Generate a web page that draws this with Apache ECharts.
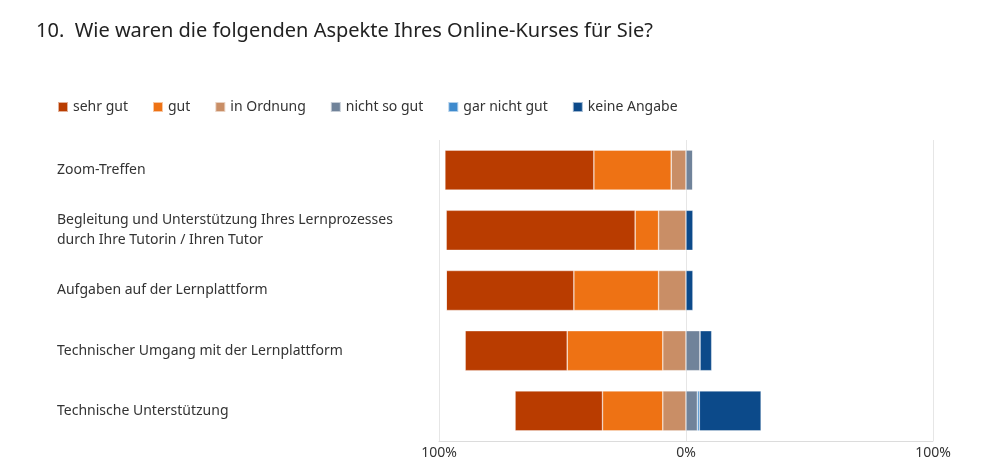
<!DOCTYPE html>
<html>
<head>
<meta charset="utf-8">
<script src="https://cdn.jsdelivr.net/npm/echarts@6/dist/echarts.min.js"></script>
<style>
  html, body { margin: 0; padding: 0; background: #fff; }
  #chart { width: 983px; height: 471px; }
</style>
</head>
<body>
<div id="chart"></div>
<script>
// Werte in Prozent
var aspekte = ['Zoom-Treffen',
  'Begleitung und Unterstützung Ihres Lernprozesses\ndurch Ihre Tutorin / Ihren Tutor',
  'Aufgaben auf der Lernplattform',
  'Technischer Umgang mit der Lernplattform',
  'Technische Unterstützung'];
var sehrGut     = [60.3, 76.6, 51.7, 41.3, 35.4];
var gut         = [31.3, 9.5, 34.3, 38.7, 24.4];
var inOrdnung   = [6.0, 11.1, 11.1, 9.4, 9.4];
var nichtSoGut  = [2.8, 0, 0, 5.7, 4.6];
var garNichtGut = [0, 0, 0, 0, 0.8];
var keineAngabe = [0, 2.8, 2.8, 4.7, 25.0];
var achsenTicks = [-100, 0, 100];

var neg = function (arr) { return arr.map(function (v) { return -v; }); };

var chart = echarts.init(document.getElementById('chart'));

function serie(name, data, color) {
  return {
    name: name,
    type: 'bar',
    stack: 'all',
    barWidth: 40,
    data: data,
    itemStyle: { color: color, borderColor: 'rgba(255,255,255,0.6)', borderWidth: 0.6 },
    emphasis: { disabled: true }
  };
}

var option = {
  animation: false,
  textStyle: { fontFamily: 'Noto Sans' },
  title: {
    text: '10.  Wie waren die folgenden Aspekte Ihres Online-Kurses für Sie?',
    left: 31,
    top: 16,
    textStyle: { fontSize: 20, fontWeight: 'normal', color: '#222', fontFamily: 'Noto Sans' }
  },
  legend: {
    data: ['sehr gut', 'gut', 'in Ordnung', 'nicht so gut', 'gar nicht gut', 'keine Angabe'],
    left: 52,
    top: 95,
    icon: 'rect',
    itemWidth: 10,
    itemHeight: 10,
    itemGap: 24,
    textStyle: { fontSize: 14, color: '#333' }
  },
  grid: { left: 439, right: 50, top: 140, bottom: 30 },
  xAxis: {
    type: 'value',
    min: -100,
    max: 100,
    interval: 100,
    axisLine: { show: true, lineStyle: { color: '#dcdcdc' } },
    axisTick: { show: false },
    splitLine: { lineStyle: { color: '#e6e6e6' } },
    axisLabel: {
      color: '#333',
      fontSize: 14,
      margin: 5,
      formatter: function (v) { return achsenTicks.indexOf(v) >= 0 ? Math.abs(v) + '%' : ''; }
    }
  },
  yAxis: {
    type: 'category',
    data: aspekte,
    inverse: true,
    axisLine: { show: false },
    axisTick: { show: false },
    axisLabel: {
      align: 'left',
      margin: 382,
      color: '#333',
      fontSize: 14,
      lineHeight: 20,
      padding: [6, 0, 0, 0]
    }
  },
  series: [
    serie('in Ordnung', neg(inOrdnung), '#C98E66'),
    serie('gut', neg(gut), '#EE7214'),
    serie('sehr gut', neg(sehrGut), '#B93C00'),
    serie('nicht so gut', nichtSoGut, '#70839A'),
    serie('gar nicht gut', garNichtGut, '#3E8ACD'),
    serie('keine Angabe', keineAngabe, '#0C4A8A')
  ]
};

chart.setOption(option);
</script>
</body>
</html>
